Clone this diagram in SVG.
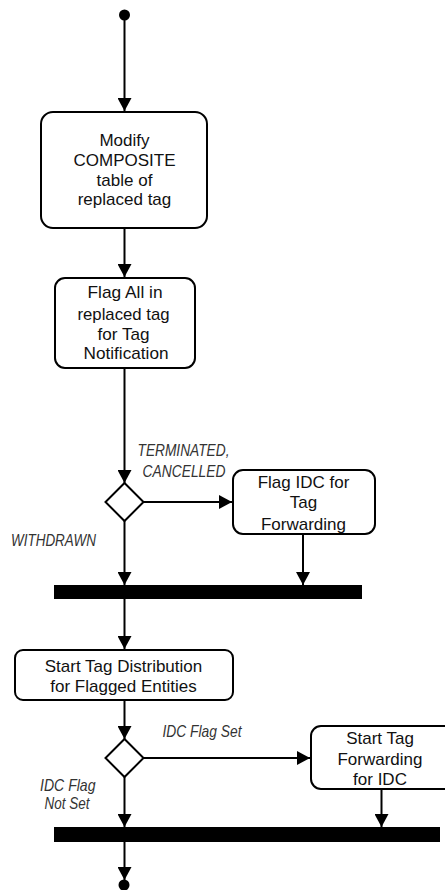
<svg xmlns="http://www.w3.org/2000/svg" width="445" height="890" viewBox="0 0 445 890">
<defs>
<marker id="ah" markerWidth="15" markerHeight="14" refX="13" refY="7" orient="auto" markerUnits="userSpaceOnUse">
<path d="M0,0 L13,7 L0,14 Z" fill="#000"/>
</marker>
<style>
.box{fill:#fff;stroke:#000;stroke-width:2}
.dia{fill:#fff;stroke:#000;stroke-width:2}
.bar{fill:#000}
.ln{fill:none;stroke:#000;stroke-width:2;marker-end:url(#ah)}
.t{font-family:"Liberation Sans",Arial,sans-serif;font-size:17px;fill:#111;text-anchor:middle}
.lb{font-family:"Liberation Sans",Arial,sans-serif;font-size:16.5px;font-style:italic;fill:#333}
</style>
</defs>
<g id="start"><circle cx="124.5" cy="15" r="5.5" fill="#000"/></g>
<g id="modify">
<rect class="box" x="41" y="112" width="166" height="116" rx="12"/>
<text class="t" x="124.5" y="146">Modify</text>
<text class="t" x="124.5" y="166">COMPOSITE</text>
<text class="t" x="124.5" y="185.5">table of</text>
<text class="t" x="124.5" y="205">replaced tag</text>
</g>
<g id="flagall">
<rect class="box" x="55" y="278" width="140" height="90" rx="10"/>
<text class="t" x="125" y="298" textLength="75" lengthAdjust="spacingAndGlyphs">Flag All in</text>
<text class="t" x="123.5" y="319.5" textLength="92" lengthAdjust="spacingAndGlyphs">replaced tag</text>
<text class="t" x="123.5" y="339.5" textLength="52" lengthAdjust="spacingAndGlyphs">for Tag</text>
<text class="t" x="126" y="359" textLength="85" lengthAdjust="spacingAndGlyphs">Notification</text>
</g>
<g id="decision1"><polygon class="dia" points="124.5,483 143.5,502 124.5,521 105.5,502"/></g>
<g id="flagidc">
<rect class="box" x="233" y="470" width="142" height="64" rx="10"/>
<text class="t" x="303.5" y="487.5">Flag IDC for</text>
<text class="t" x="303.5" y="508">Tag</text>
<text class="t" x="303.5" y="529.5">Forwarding</text>
</g>
<g id="join1"><rect class="bar" x="54" y="585" width="308" height="14"/></g>
<g id="startdist">
<rect class="box" x="15" y="650" width="218" height="50" rx="8"/>
<text class="t" x="123.5" y="671.5">Start Tag Distribution</text>
<text class="t" x="123.5" y="691.5">for Flagged Entities</text>
</g>
<g id="decision2"><polygon class="dia" points="124.5,739 143.5,758 124.5,777 105.5,758"/></g>
<g id="startfwd">
<rect class="box" x="311" y="726" width="145" height="63" rx="10"/>
<text class="t" x="380" y="744">Start Tag</text>
<text class="t" x="380" y="764.5">Forwarding</text>
<text class="t" x="380" y="785">for IDC</text>
</g>
<g id="join2"><rect class="bar" x="54" y="827" width="386" height="15"/></g>
<g id="end"><circle cx="124" cy="885" r="5.5" fill="#000"/></g>
<g id="connectors">
<line class="ln" x1="124.5" y1="15" x2="124.5" y2="111"/>
<line class="ln" x1="124.5" y1="228" x2="124.5" y2="277"/>
<line class="ln" x1="124.5" y1="368" x2="124.5" y2="483"/>
<line class="ln" x1="143.5" y1="502" x2="232" y2="502"/>
<line class="ln" x1="124.5" y1="521" x2="124.5" y2="585"/>
<line class="ln" x1="303" y1="534" x2="303" y2="585"/>
<line class="ln" x1="124.5" y1="599" x2="124.5" y2="649"/>
<line class="ln" x1="124.5" y1="700" x2="124.5" y2="739"/>
<line class="ln" x1="143.5" y1="758" x2="310" y2="758"/>
<line class="ln" x1="124.5" y1="777" x2="124.5" y2="827"/>
<line class="ln" x1="381.5" y1="789" x2="381.5" y2="827"/>
<line class="ln" x1="124.5" y1="842" x2="124.5" y2="880"/>
</g>
<g id="labels">
<text class="lb" x="137.5" y="455.5" textLength="92" lengthAdjust="spacingAndGlyphs">TERMINATED,</text>
<text class="lb" x="142.5" y="477" textLength="83" lengthAdjust="spacingAndGlyphs">CANCELLED</text>
<text class="lb" x="11" y="546" textLength="85" lengthAdjust="spacingAndGlyphs">WITHDRAWN</text>
<text class="lb" x="162.5" y="737" textLength="79" lengthAdjust="spacingAndGlyphs">IDC Flag Set</text>
<text class="lb" x="40" y="790.5" textLength="55.5" lengthAdjust="spacingAndGlyphs">IDC Flag</text>
<text class="lb" x="44.5" y="809" textLength="45" lengthAdjust="spacingAndGlyphs">Not Set</text>
</g>
</svg>
